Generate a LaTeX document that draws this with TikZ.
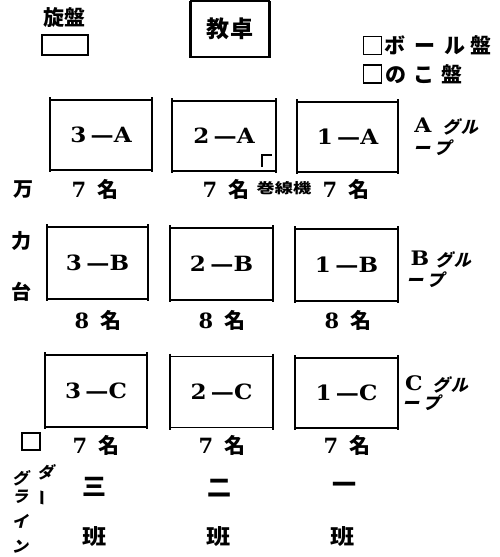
\documentclass[tikz,border=0pt]{standalone}
\usepackage{fontspec}
\usepackage{graphicx}
\newfontfamily\jp{Noto Sans CJK JP}
\newfontfamily\jpsl{Noto Sans CJK JP}[FakeSlant=0.25]
\newfontfamily\latf{DejaVu Serif}
\newcommand\seattxt[2]{\scalebox{1.1}[1]{\latf\bfseries\fontsize{21}{21}\selectfont #1\hspace{4pt}—#2}}
\newcommand\cnt[1]{{\latf\bfseries\fontsize{21}{21}\selectfont #1}\hspace{11pt}{\jp\bfseries 名}}
\newcommand\grpletter[1]{\scalebox{1.1}[1]{\latf\bfseries\fontsize{20}{20}\selectfont #1}}
\newcommand\seatsides[1]{%
  \draw[side] ([yshift=3pt]#1.north west) -- ([yshift=-2pt]#1.south west);
  \draw[side] ([yshift=3pt]#1.north east) -- ([yshift=-2pt]#1.south east);}
\tikzset{
  seat/.style={draw, line width=1.2pt, inner sep=0pt, outer sep=0pt},
  side/.style={line width=2.4pt},
  jpt/.style={font=\jp\bfseries\fontsize{20}{20}\selectfont, inner sep=0pt},
  jps/.style={font=\jpsl\bfseries\fontsize{16}{16}\selectfont, inner sep=0pt},
  cntt/.style={font=\jp\bfseries\fontsize{21}{21}\selectfont, inner sep=0pt},
  sq/.style={draw, line width=1.6pt, inner sep=0pt, minimum width=18pt, minimum height=18pt},
}
\begin{document}
\begin{tikzpicture}[x=1pt,y=-1pt]
\useasboundingbox (0,0) rectangle (499,557);

% lathe
\node[jpt, font=\jp\bfseries\fontsize{21}{21}\selectfont] (latheT) at (64,18) {旋盤};
\node[draw, line width=1.6pt, minimum width=46pt, minimum height=20pt, inner sep=0pt] (lathe) at (65,45) {};

% teacher desk
\node[seat, minimum width=79pt, minimum height=56pt, font=\jp\bfseries\fontsize{23}{23}\selectfont] (desk) at (230,29) {教\hspace{1pt}卓};
\draw[side] (desk.north west) -- ([yshift=-1pt]desk.south west);
\draw[side] (desk.north east) -- ([yshift=-1pt]desk.south east);

% ball & saw
\node[sq] (ballsq) at (372.5,45.5) {};
\node[jpt, anchor=west, font=\jp\bfseries\fontsize{21}{21}\selectfont] (ball) at (384,45.5) {ボ\hspace{9pt}ー\hspace{9pt}ル\hspace{5pt}盤};
\node[sq] (sawsq) at (372.5,74) {};
\node[jpt, anchor=west, font=\jp\bfseries\fontsize{21}{21}\selectfont] (saw) at (385,74) {の\hspace{7pt}こ\hspace{7pt}盤};

% row A
\node[seat, minimum width=102pt, minimum height=70pt] (a3) at (101,135) {\seattxt{3}{A}};
\node[seat, minimum width=104pt, minimum height=70pt] (a2) at (224,136) {\seattxt{2}{A}};
\node[seat, minimum width=101pt, minimum height=70pt] (a1) at (347.5,137) {\seattxt{1}{A}};
\seatsides{a3}\seatsides{a2}\seatsides{a1}
\draw[line width=1.6pt] ([shift={(-14,-4)}]a2.south east) -- ([shift={(-14,-16)}]a2.south east) -- ([shift={(-4,-16)}]a2.south east);

% row B
\node[seat, minimum width=101pt, minimum height=72pt] (b3) at (97.5,263) {\seattxt{3}{B}};
\node[seat, minimum width=103pt, minimum height=72pt] (b2) at (221.5,264) {\seattxt{2}{B}};
\node[seat, minimum width=103pt, minimum height=72pt] (b1) at (346.5,265) {\seattxt{1}{B}};
\seatsides{b3}\seatsides{b2}\seatsides{b1}

% row C
\node[seat, minimum width=102pt, minimum height=72pt] (c3) at (96,391) {\seattxt{3}{C}};
\node[seat, minimum width=103pt, minimum height=71pt] (c2) at (221.5,392) {\seattxt{2}{C}};
\node[seat, minimum width=103pt, minimum height=70pt] (c1) at (346.5,393) {\seattxt{1}{C}};
\seatsides{c3}\seatsides{c2}\seatsides{c1}

% counts
\node[cntt] (na3) at (95,189) {\cnt{7}};
\node[cntt] (na2) at (226,189) {\cnt{7}};
\node[cntt] (na1) at (346,189) {\cnt{7}};
\node[jpt, font=\jp\bfseries\fontsize{14}{14}\selectfont] (coil) at (284,188) {\scalebox{1.3}[1]{巻線機}};
\node[cntt] (nb3) at (98,320) {\cnt{8}};
\node[cntt] (nb2) at (222,320) {\cnt{8}};
\node[cntt] (nb1) at (348,320) {\cnt{8}};
\node[cntt] (nc3) at (96,445) {\cnt{7}};
\node[cntt] (nc2) at (222,445) {\cnt{7}};
\node[cntt] (nc1) at (347,445) {\cnt{7}};

% group labels
\node[inner sep=0pt] (gA) at (423,125) {\grpletter{A}};
\node[jps, font=\jpsl\bfseries\fontsize{17}{17}\selectfont] (gA1) at (460,127) {グ\hspace{2pt}ル};
\node[jps, font=\jpsl\bfseries\fontsize{17}{17}\selectfont] (gA2) at (432,148) {ー\hspace{4pt}プ};
\node[inner sep=0pt] (gB) at (420,258) {\grpletter{B}};
\node[jps, font=\jpsl\bfseries\fontsize{17}{17}\selectfont] (gB1) at (453,260) {グ\hspace{2pt}ル};
\node[jps, font=\jpsl\bfseries\fontsize{17}{17}\selectfont] (gB2) at (425,280) {ー\hspace{4pt}プ};
\node[inner sep=0pt] (gC) at (414,383) {\grpletter{C}};
\node[jps, font=\jpsl\bfseries\fontsize{17}{17}\selectfont] (gC1) at (450,385) {グ\hspace{2pt}ル};
\node[jps, font=\jpsl\bfseries\fontsize{17}{17}\selectfont] (gC2) at (421,403) {ー\hspace{4pt}プ};

% universal table (vertical)
\node[jpt] (u1) at (23,190) {万};
\node[jpt] (u2) at (22,241) {力};
\node[jpt] (u3) at (22,292) {台};

% grinder
\node[sq, minimum height=17pt] (grsq) at (31,441.5) {};
\node[jps] (g1) at (20,478) {グ};
\node[jps] (g2) at (20,497) {ラ};
\node[jps] (g3) at (20,521) {イ};
\node[jps] (g4) at (20,547) {ン};
\node[jps] (g5) at (45,472) {ダ};
\node[jps, rotate=90] (g6) at (45,499) {ー};

% groups
\node[jpt, font=\jp\bfseries\fontsize{24}{24}\selectfont] (h3) at (94,487) {三};
\node[jpt, font=\jp\bfseries\fontsize{24}{24}\selectfont] (h2) at (219,488) {二};
\node[jpt, font=\jp\bfseries\fontsize{24}{24}\selectfont] (h1) at (344,488) {一};
\node[jpt, font=\jp\bfseries\fontsize{21}{21}\selectfont] (k3) at (95,537) {\scalebox{1.15}[1]{班}};
\node[jpt, font=\jp\bfseries\fontsize{21}{21}\selectfont] (k2) at (219,537) {\scalebox{1.15}[1]{班}};
\node[jpt, font=\jp\bfseries\fontsize{21}{21}\selectfont] (k1) at (343,537) {\scalebox{1.15}[1]{班}};
\end{tikzpicture}
\end{document}
